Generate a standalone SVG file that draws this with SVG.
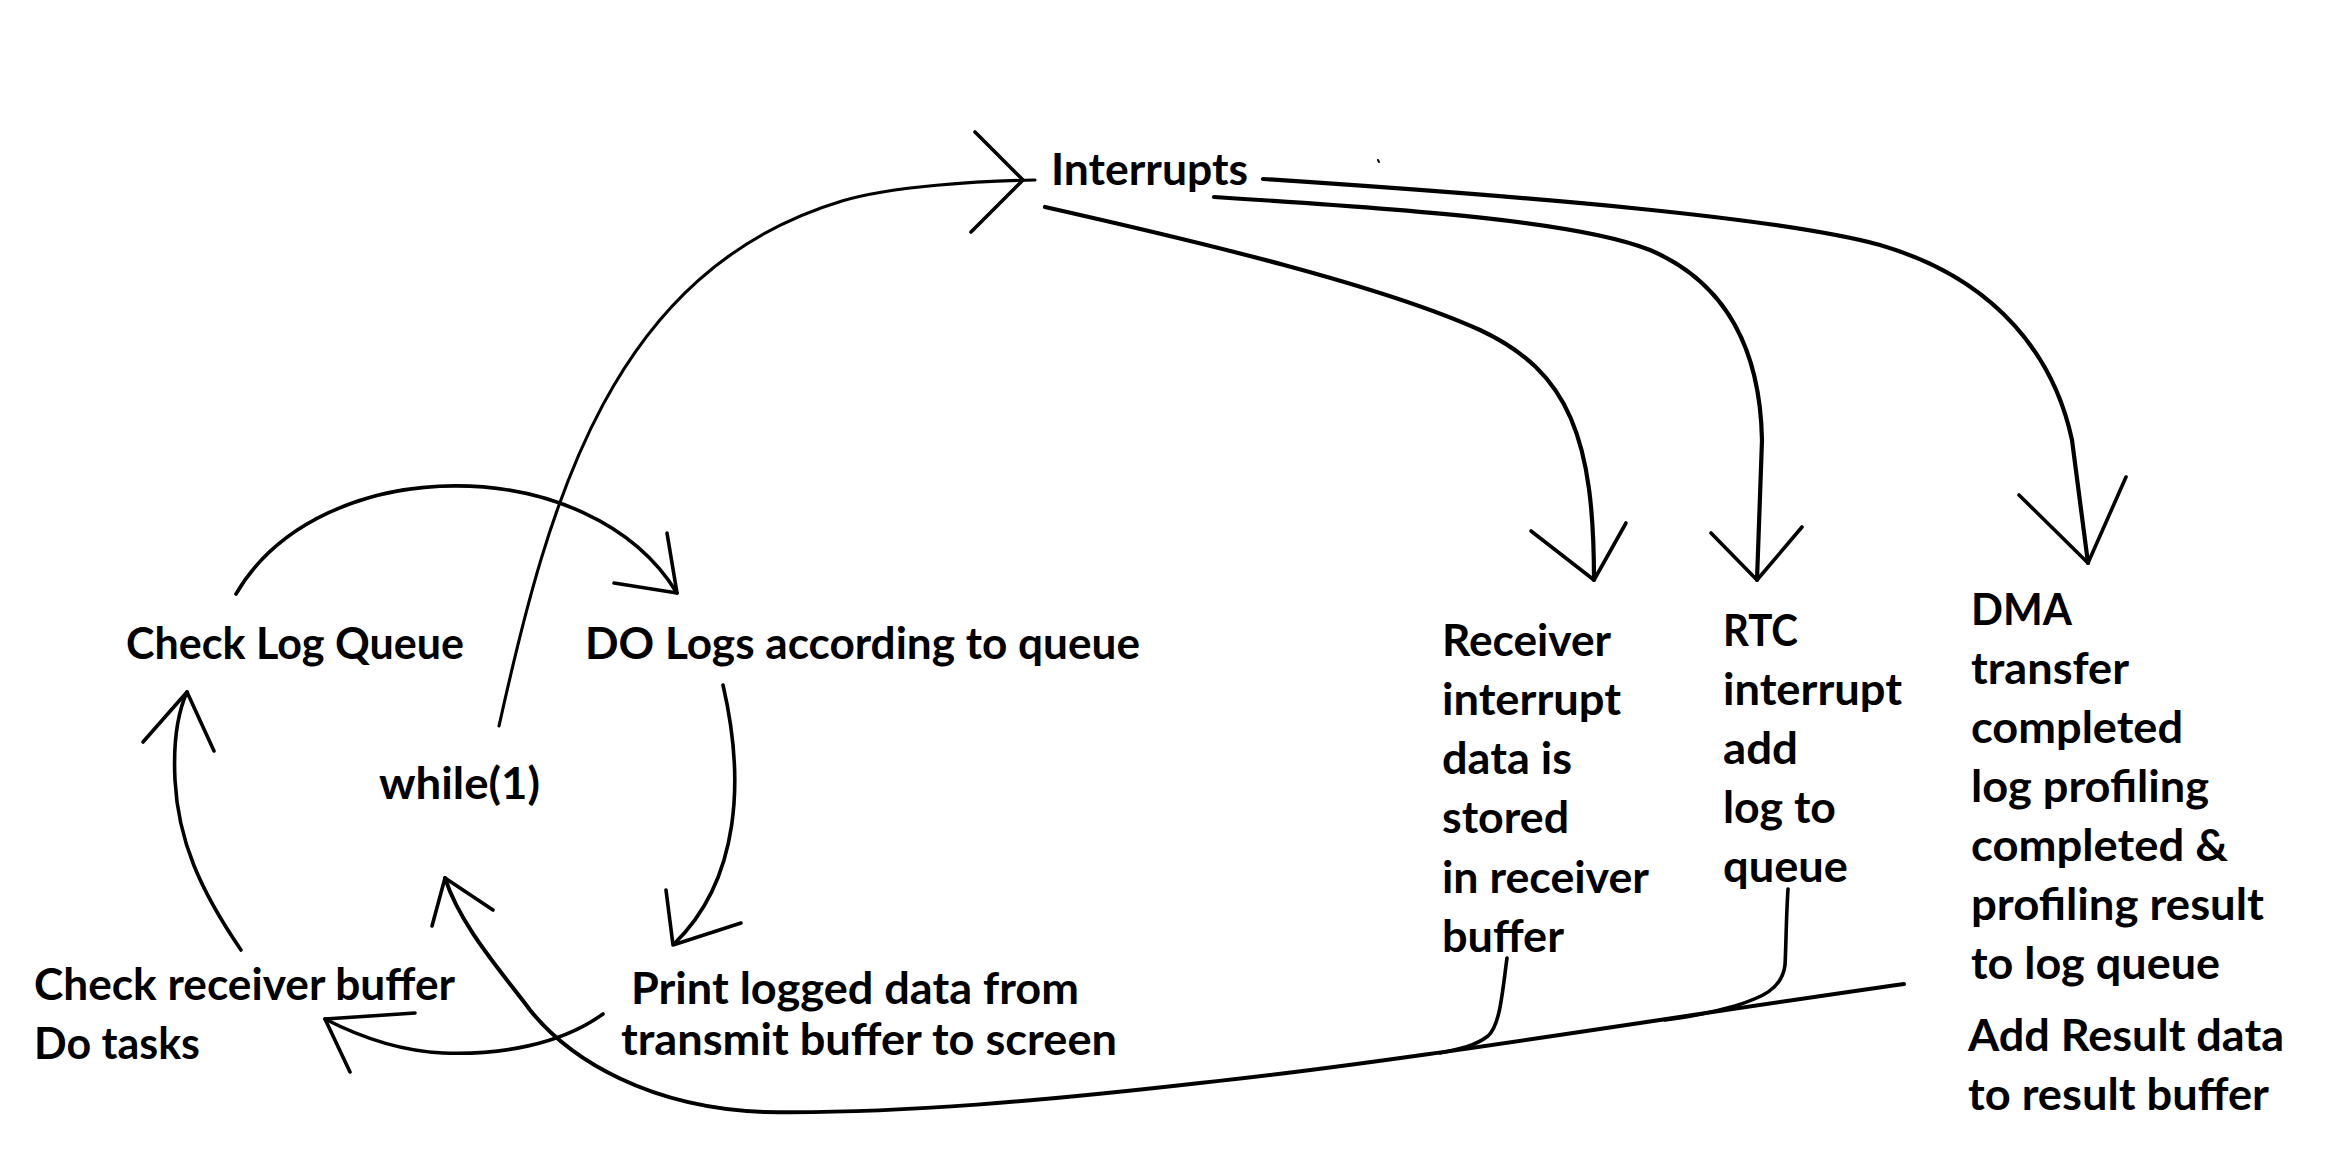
<svg xmlns="http://www.w3.org/2000/svg" width="2352" height="1164" viewBox="0 0 2352 1164">
<style>
.t{font-family:Lato,"Open Sans","Liberation Sans",sans-serif;font-weight:bold;font-size:43px;fill:#000}
.c{fill:none;stroke:#000;stroke-width:3.6;stroke-linecap:round;stroke-linejoin:round}
.thin{stroke-width:3.1}
.thick{stroke-width:4.2}
</style>
<rect width="2352" height="1164" fill="#fff"/>
<g id="connectors">
  <!-- while(1) -> Interrupts -->
  <path class="c thin" d="M499,726 C549,500 612,270 842,201 C892,186 980,181 1035,180"/>
  <path class="c" d="M975,132 L1023,180 L971,232"/>
  <!-- Check Log Queue -> DO Logs -->
  <path class="c" d="M236,594 C320,450 590,450 677,593"/>
  <path class="c" d="M667,533 L677,593 L614,583"/>
  <!-- DO Logs -> Print -->
  <path class="c" d="M723,685 C745,780 740,880 674,944"/>
  <path class="c" d="M666,890 L673,945 L741,923"/>
  <!-- Print -> Check receiver buffer -->
  <path class="c" d="M603,1014 C560,1045 500,1055 443,1053 C400,1051 360,1037 325,1019"/>
  <path class="c" d="M415,1013 L325,1019 L350,1072"/>
  <!-- Check receiver buffer -> Check Log Queue -->
  <path class="c" d="M241,950 C200,890 178,840 175,780 C173,740 178,712 187,692"/>
  <path class="c" d="M143,742 L187,692 L214,751"/>
  <!-- Interrupts -> Receiver -->
  <path class="c thick" d="M1045,207 C1200,242 1380,285 1480,330 C1570,372 1594,440 1594,580"/>
  <path class="c" d="M1531,531 L1594,580 L1626,523"/>
  <!-- Interrupts -> RTC -->
  <path class="c thick" d="M1214,197 C1420,210 1580,222 1650,250 C1720,280 1760,340 1762,440 L1757,580"/>
  <path class="c" d="M1711,533 L1757,580 L1802,527"/>
  <!-- Interrupts -> DMA -->
  <path class="c thick" d="M1263,179 C1550,198 1780,218 1880,245 C2000,280 2055,360 2072,440 L2088,563"/>
  <path class="c" d="M2019,495 L2088,563 L2126,477"/>
  <!-- return path to while(1) -->
  <path class="c" style="stroke-width:4" d="M1904,984 C1650,1020 1400,1062 1200,1083 C1050,1100 900,1114 765,1112 C650,1108 570,1060 530,1010 C500,970 460,925 445,878"/>
  <path class="c" d="M432,926 L445,878 L493,910"/>
  <path class="c" d="M1507,958 C1502,995 1500,1025 1488,1036 C1475,1046 1460,1049 1440,1053"/>
  <path class="c" d="M1788,889 C1786,920 1786,950 1785,965 C1782,990 1760,998 1735,1006 C1710,1013 1690,1017 1665,1020"/>
  <path class="c" style="stroke-width:2" d="M1378,160 L1379,162"/>
</g>
<g id="interrupts"><text class="t" x="1051" y="185" textLength="197" lengthAdjust="spacingAndGlyphs">Interrupts</text></g>
<g id="check-log-queue"><text class="t" x="126" y="659" textLength="338" lengthAdjust="spacingAndGlyphs">Check Log Queue</text></g>
<g id="do-logs"><text class="t" x="585" y="659" textLength="555" lengthAdjust="spacingAndGlyphs">DO Logs according to queue</text></g>
<g id="while"><text class="t" x="379" y="799" textLength="161" lengthAdjust="spacingAndGlyphs">while(1)</text></g>
<g id="check-receiver">
  <text class="t" x="34" y="1000" textLength="421" lengthAdjust="spacingAndGlyphs">Check receiver buffer</text>
  <text class="t" x="34" y="1059" textLength="166" lengthAdjust="spacingAndGlyphs">Do tasks</text>
</g>
<g id="print">
  <text class="t" x="631" y="1004" textLength="448" lengthAdjust="spacingAndGlyphs">Print logged data from</text>
  <text class="t" x="621" y="1055" textLength="496" lengthAdjust="spacingAndGlyphs">transmit buffer to screen</text>
</g>
<g id="receiver-interrupt">
  <text class="t" x="1442" y="656" textLength="169" lengthAdjust="spacingAndGlyphs">Receiver</text>
  <text class="t" x="1442" y="715" textLength="179" lengthAdjust="spacingAndGlyphs">interrupt</text>
  <text class="t" x="1442" y="774" textLength="130" lengthAdjust="spacingAndGlyphs">data is</text>
  <text class="t" x="1442" y="833" textLength="127" lengthAdjust="spacingAndGlyphs">stored</text>
  <text class="t" x="1442" y="893" textLength="207" lengthAdjust="spacingAndGlyphs">in receiver</text>
  <text class="t" x="1442" y="952" textLength="122" lengthAdjust="spacingAndGlyphs">buffer</text>
</g>
<g id="rtc-interrupt">
  <text class="t" x="1723" y="646" textLength="75" lengthAdjust="spacingAndGlyphs">RTC</text>
  <text class="t" x="1723" y="705" textLength="179" lengthAdjust="spacingAndGlyphs">interrupt</text>
  <text class="t" x="1723" y="764" textLength="75" lengthAdjust="spacingAndGlyphs">add</text>
  <text class="t" x="1723" y="823" textLength="113" lengthAdjust="spacingAndGlyphs">log to</text>
  <text class="t" x="1723" y="882" textLength="125" lengthAdjust="spacingAndGlyphs">queue</text>
</g>
<g id="dma">
  <text class="t" x="1971" y="625" textLength="101" lengthAdjust="spacingAndGlyphs">DMA</text>
  <text class="t" x="1971" y="684" textLength="158" lengthAdjust="spacingAndGlyphs">transfer</text>
  <text class="t" x="1971" y="743" textLength="212" lengthAdjust="spacingAndGlyphs">completed</text>
  <text class="t" x="1971" y="802" textLength="238" lengthAdjust="spacingAndGlyphs">log profiling</text>
  <text class="t" x="1971" y="861" textLength="257" lengthAdjust="spacingAndGlyphs">completed &amp;</text>
  <text class="t" x="1971" y="920" textLength="293" lengthAdjust="spacingAndGlyphs">profiling result</text>
  <text class="t" x="1971" y="979" textLength="249" lengthAdjust="spacingAndGlyphs">to log queue</text>
</g>
<g id="add-result">
  <text class="t" x="1968" y="1051" textLength="316" lengthAdjust="spacingAndGlyphs">Add Result data</text>
  <text class="t" x="1968" y="1110" textLength="301" lengthAdjust="spacingAndGlyphs">to result buffer</text>
</g>
</svg>
